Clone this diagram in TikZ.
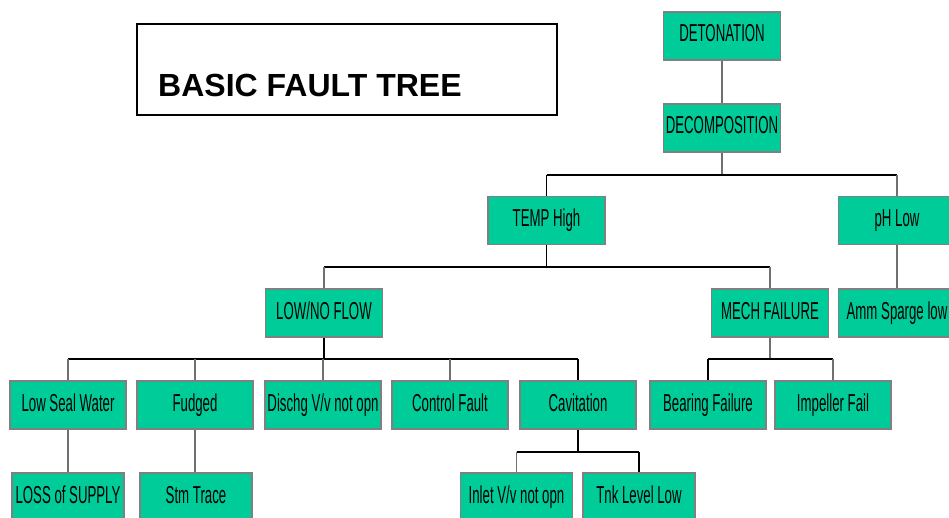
\documentclass[tikz,border=0pt]{standalone}
\usepackage{fontspec}
\setmainfont{Liberation Sans}
\newfontfamily\boxfont[FakeStretch=0.54]{Liberation Sans}
\definecolor{boxgreen}{HTML}{00CC99}
\definecolor{boxedge}{HTML}{808080}
\definecolor{linegray}{HTML}{707070}
\begin{document}
\begin{tikzpicture}[x=1pt,y=-1pt,
  evt/.style={draw=boxedge, line width=1.3pt, fill=boxgreen, minimum width=117pt, minimum height=48pt,
    inner sep=0pt, text height=18pt, text depth=6pt, font=\boxfont\fontsize{24.5}{24.5}\selectfont},
  evtsm/.style={evt, minimum width=112pt},
  vline/.style={draw=linegray, line width=1.5pt},
  vlineb/.style={draw=black, line width=1.3pt},
  hbar/.style={draw=black, line width=1.6pt}]
\useasboundingbox (0,0) rectangle (949,518);
% title
\node[draw=black, line width=1.5pt, minimum width=420pt, minimum height=91pt, inner sep=0pt] (titlebox) at (347,69.5) {};
\node[anchor=base west, inner sep=0pt, font=\bfseries\fontsize{32}{32}\selectfont] (title) at (158,97) {BASIC FAULT TREE};
% nodes
\node[evt] (det) at (722,36) {DETONATION};
\node[evt] (dec) at (722,128) {DECOMPOSITION};
\node[evt] (temp) at (546.5,220.5) {TEMP High};
\node[evt] (ph) at (897,220.5) {pH Low};
\node[evt] (flow) at (324,313) {LOW/NO FLOW};
\node[evt] (mech) at (770,313) {MECH FAILURE};
\node[evt] (amm) at (897,313) {Amm Sparge low};
\node[evt, minimum width=116pt] (seal) at (68,405) {Low Seal Water};
\node[evt, minimum width=116pt] (fudged) at (195,405) {Fudged};
\node[evt, minimum width=116pt] (dischg) at (323,405) {Dischg V/v not opn};
\node[evt, minimum width=116pt] (ctrl) at (450,405) {Control Fault};
\node[evt, minimum width=116pt] (cav) at (578,405) {Cavitation};
\node[evt, minimum width=116pt] (bear) at (708,405) {Bearing Failure};
\node[evt, minimum width=116pt] (imp) at (833,405) {Impeller Fail};
\node[evtsm] (loss) at (68,497) {LOSS of SUPPLY};
\node[evtsm] (stm) at (196,497) {Stm Trace};
\node[evtsm] (inlet) at (516.5,497) {Inlet V/v not opn};
\node[evtsm] (tnk) at (639,497) {Tnk Level Low};
% bar levels
\coordinate (y1) at (0,175);
\coordinate (y2) at (0,267);
\coordinate (y3) at (0,359);
\coordinate (y4) at (0,452);
% connectors
\draw[vline] (det.south) -- (dec.north);
\draw[vline] (dec.south) -- (dec.south |- y1);
\draw[hbar] (temp.north |- y1) -- (ph.north |- y1);
\draw[vlineb] (temp.north |- y1) -- (temp.north);
\draw[vline] (ph.north |- y1) -- (ph.north);
\draw[vlineb] (temp.south) -- (temp.south |- y2);
\draw[hbar] (flow.north |- y2) -- (mech.north |- y2);
\draw[vline] (flow.north |- y2) -- (flow.north);
\draw[vline] (mech.north |- y2) -- (mech.north);
\draw[vline] (ph.south) -- (amm.north);
\draw[vlineb] (flow.south) -- (flow.south |- y3);
\draw[hbar] (seal.north |- y3) -- (cav.north |- y3);
\draw[vline] (seal.north |- y3) -- (seal.north);
\draw[vline] (fudged.north |- y3) -- (fudged.north);
\draw[vline] (dischg.north |- y3) -- (dischg.north);
\draw[vline] (ctrl.north |- y3) -- (ctrl.north);
\draw[vlineb] (cav.north |- y3) -- (cav.north);
\draw[vline] (mech.south) -- (mech.south |- y3);
\draw[hbar] (bear.north |- y3) -- (imp.north |- y3);
\draw[vlineb] (bear.north |- y3) -- (bear.north);
\draw[vline] (imp.north |- y3) -- (imp.north);
\draw[vline] (seal.south) -- (seal.south |- loss.north);
\draw[vline] (fudged.south) -- (fudged.south |- stm.north);
\draw[vlineb] (cav.south) -- (cav.south |- y4);
\draw[hbar] (inlet.north |- y4) -- (tnk.north |- y4);
\draw[vline] (inlet.north |- y4) -- (inlet.north);
\draw[vlineb] (tnk.north |- y4) -- (tnk.north);
\end{tikzpicture}
\end{document}
